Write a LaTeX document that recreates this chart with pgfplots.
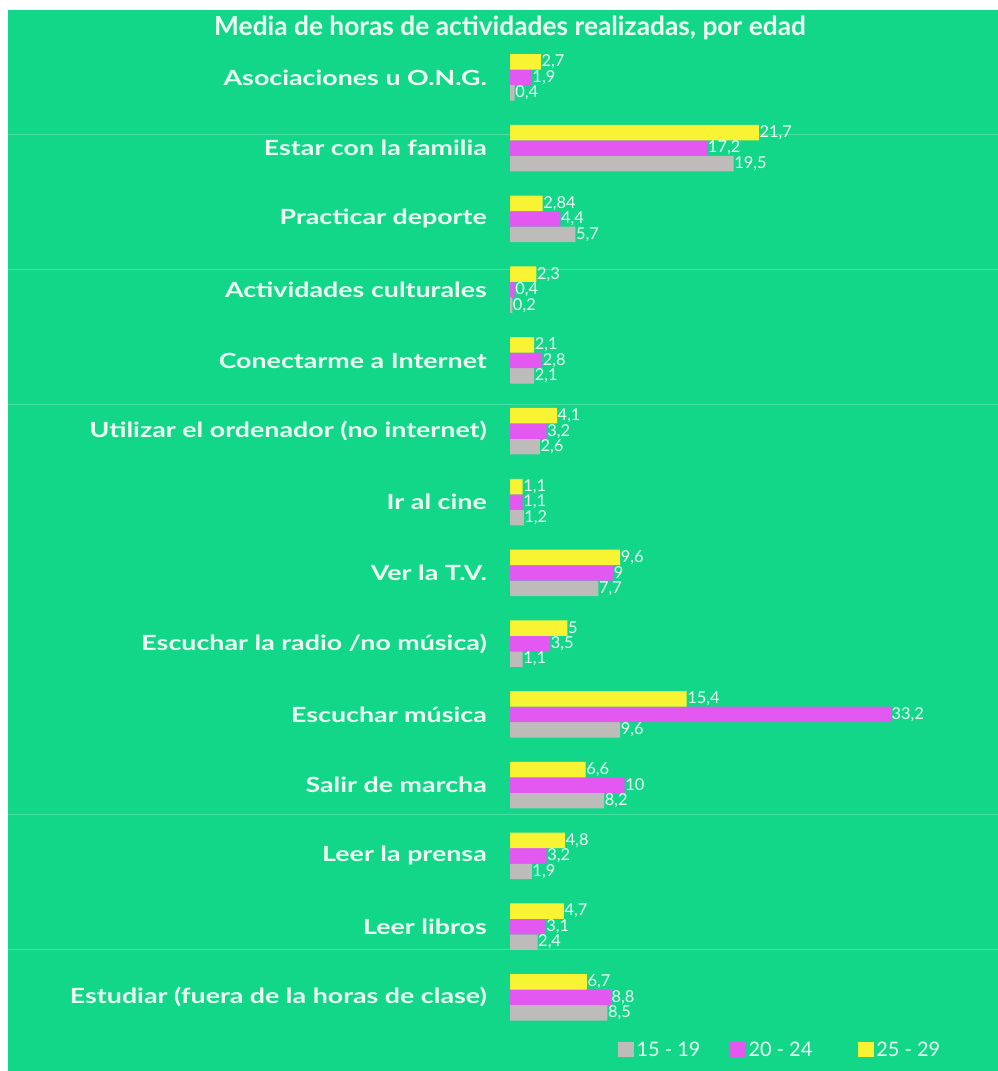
\documentclass[border=0pt]{standalone}
\usepackage{fontspec}
\setmainfont{Lato}
\newfontfamily\titlefont{Lato}
\newfontfamily\labfont[FakeStretch=1.28]{Lato}
\usepackage{pgfplots}
\pgfplotsset{compat=1.18}
\definecolor{bg}{RGB}{18,214,136}
\definecolor{txt}{RGB}{236,255,242}
\definecolor{cyel}{RGB}{248,244,52}
\definecolor{cmag}{RGB}{226,88,240}
\definecolor{cgry}{RGB}{190,188,186}
\begin{document}
\begin{tikzpicture}
\begin{scope}[x=1bp,y=1bp]
\fill[white] (0,0) rectangle (998,1071);
\fill[bg] (8,0) rectangle (998,1061);
\foreach \yy in {135,270,405,815,950} \draw[line width=1bp, white, opacity=0.22] (8,1071-\yy) -- (998,1071-\yy);
\node[font=\titlefont\bfseries\fontsize{26.4}{29}\selectfont, text=txt] at (510,1043) {Media de horas de actividades realizadas, por edad};
\end{scope}
\begin{axis}[
  at={(510bp,38.2bp)}, anchor=south west,
  scale only axis, width=401.45bp, height=990.8bp,
  xmin=0, xmax=35, ymin=-0.5, ymax=13.5,
  xbar, bar width=15.5bp,
  clip=false,
  axis line style={draw=none},
  tick style={draw=none}, major tick length=0pt,
  xtick=\empty,
  ytick={0,...,13},
  yticklabels={{Estudiar (fuera de la horas de clase)},{Leer libros},{Leer la prensa},{Salir de marcha},{Escuchar música},{Escuchar la radio /no música)},{Ver la T.V.},{Ir al cine},{Utilizar el ordenador (no internet)},{Conectarme a Internet},{Actividades culturales},{Practicar deporte},{Estar con la familia},{Asociaciones u O.N.G.}},
  yticklabel style={font=\labfont\bfseries\fontsize{21}{24}\selectfont, text=txt, inner sep=0pt, xshift=-23bp},
  /pgf/number format/use comma,
  /pgf/number format/1000 sep={},
  /pgf/number format/assume math mode=true,
  nodes near coords,
  nodes near coords style={font=\fontsize{16.5}{18}\selectfont, text=txt, inner sep=0.5bp, anchor=west},
  legend columns=3,
  legend image code/.code={\fill[#1] (0bp,-7.5bp) rectangle (16bp,7.5bp);},
  legend style={draw=none, fill=none, at={(0.269,-0.0169)}, anchor=west, inner sep=0pt,
    font=\fontsize{20}{22}\selectfont, text=txt,
    nodes={inner sep=2.5bp},
    /tikz/column 2/.style={column sep=27bp},
    /tikz/column 4/.style={column sep=43bp}},
]
\addplot[fill=cgry, draw=none, bar shift=-15.5bp] coordinates {
(0.4,13) (19.5,12) (5.7,11) (0.2,10) (2.1,9) (2.6,8) (1.2,7) (7.7,6) (1.1,5) (9.6,4) (8.2,3) (1.9,2) (2.4,1) (8.5,0)};
\addplot[fill=cmag, draw=none, bar shift=0bp] coordinates {
(1.9,13) (17.2,12) (4.4,11) (0.4,10) (2.8,9) (3.2,8) (1.1,7) (9,6) (3.5,5) (33.2,4) (10,3) (3.2,2) (3.1,1) (8.8,0)};
\addplot[fill=cyel, draw=none, bar shift=15.5bp] coordinates {
(2.7,13) (21.7,12) (2.84,11) (2.3,10) (2.1,9) (4.1,8) (1.1,7) (9.6,6) (5,5) (15.4,4) (6.6,3) (4.8,2) (4.7,1) (6.7,0)};
\legend{15 - 19, 20 - 24, 25 - 29}
\end{axis}
\pgfresetboundingbox
\path (0,0) rectangle (998bp,1071bp);
\end{tikzpicture}
\end{document}
